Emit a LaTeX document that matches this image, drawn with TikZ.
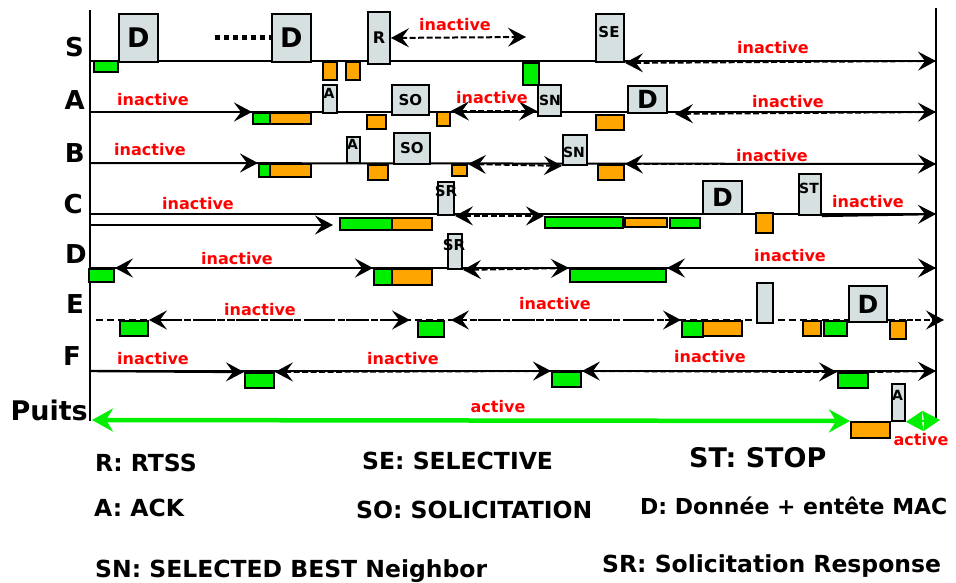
\documentclass[tikz,border=0pt]{standalone}
\usepackage{fontspec}
\setmainfont{DejaVu Sans}
\usetikzlibrary{arrows.meta,backgrounds}
\definecolor{cgreen}{RGB}{0,238,0}
\definecolor{corange}{RGB}{255,165,0}
\definecolor{cgray}{RGB}{214,224,224}
\definecolor{cred}{RGB}{255,0,0}
\newcommand\fs[1]{\fontsize{#1}{#1}\selectfont\bfseries}
\newcommand\bx[7]{\node[#2,anchor=north west,inner sep=0pt,minimum width={(#5-#3)*1pt},minimum height={(#6-#4)*1pt}] (#1) at (#3,#4) {#7};}
\begin{document}
\begin{tikzpicture}[x=1pt,y=-1pt,
  >={Stealth[length=18pt,width=19pt,inset=7pt]},
  gb/.style={draw,line width=1.9pt,fill=cgreen},
  ob/.style={draw,line width=1.9pt,fill=corange},
  pb/.style={draw,line width=1.9pt,fill=cgray},
  tl/.style={line width=2pt},
  ar/.style={line width=2.4pt,->},
  dar/.style={line width=2pt,<->,dash pattern=on 6pt off 2.5pt},
  ddr/.style={line width=2pt,->,dash pattern=on 6pt off 2.5pt},
  ina/.style={text=cred,font=\fs{16},inner sep=0pt},
  btxt/.style={inner sep=0pt},
  leg/.style={font=\fs{23.5},anchor=base west,inner sep=0pt},
  rowl/.style={font=\fs{26},anchor=base east,inner sep=0pt},
  garr/.style={line width=4.5pt,cgreen,{Stealth[length=21pt,width=23pt,inset=7pt]}-{Stealth[length=21pt,width=23pt,inset=7pt]}},
  garrs/.style={line width=2pt,cgreen,{Stealth[length=17pt,width=20pt,inset=1pt]}-{Stealth[length=17pt,width=20pt,inset=1pt]}}
]
\useasboundingbox (0,0) rectangle (956,583);

% row labels
\node[rowl] (lS) at (84,57) {S};
\node[rowl] (lA) at (85,110) {A};
\node[rowl] (lB) at (85,163) {B};
\node[rowl] (lC) at (83,213) {C};
\node[rowl] (lD) at (87,263) {D};
\node[rowl] (lE) at (84,313) {E};
\node[rowl] (lF) at (81,365) {F};
\node[rowl,font=\fs{27}] (lP) at (88,420) {Puits};

% row end coordinates
\coordinate (L1) at (90,10);  \coordinate (L2) at (90,421);
\coordinate (R1) at (936,8);  \coordinate (R2) at (936,418);
\coordinate (s0) at (90,61);  \coordinate (s1) at (936,61);
\coordinate (a0) at (90,112); \coordinate (a1) at (936,112);
\coordinate (b0) at (90,163); \coordinate (b1) at (936,164);
\coordinate (c0) at (90,214); \coordinate (c1) at (936,214);
\coordinate (c0b) at (90,225);
\coordinate (d0) at (90,268); \coordinate (d1) at (936,268);
\coordinate (e0) at (96,320); \coordinate (e1) at (944,320);
\coordinate (f0) at (90,371); \coordinate (f1) at (936,371);
\coordinate (p0) at (92,420); \coordinate (p1) at (940,420);
\coordinate (sRa) at (526,37);
\coordinate (dotA) at (215,38);

% S row
\bx{sg1}{gb}{93}{60}{117}{71}{}
\bx{sD1}{pb}{118}{13}{157}{61}{\fs{27}D}
\bx{sD2}{pb}{271}{13}{310}{61}{\fs{27}D}
\bx{so1}{ob}{322}{61}{336}{79}{}
\bx{so2}{ob}{345}{61}{359}{79}{}
\bx{sR}{pb}{367}{11}{389}{63}{\fs{16}R}
\bx{sg2}{gb}{522}{62}{538}{84}{}
\bx{sSE}{pb}{595}{13}{623}{61}{}
\node[btxt,font=\fs{15}] (tSE) at (609,32) {SE};

% A row
\bx{ag1}{gb}{252}{112}{269}{123}{}
\bx{ao1}{ob}{269}{112}{310}{123}{}
\bx{aA}{pb}{322}{84}{336}{112}{}
\node[btxt,font=\fs{14}] (tAA) at (329,93) {A};
\bx{ao2}{ob}{366}{114}{385}{128}{}
\bx{aSO}{pb}{391}{84}{428}{114}{\fs{15}SO}
\bx{ao3}{ob}{436}{111}{449}{125}{}
\bx{aSN}{pb}{537}{84}{560}{115}{}
\node[btxt,font=\fs{14}] (tASN) at (550,100) {SN};
\bx{ao4}{ob}{595}{114}{623}{129}{}
\bx{aD}{pb}{627}{85}{666}{112}{\fs{25}D}

% B row
\bx{bg1}{gb}{258}{163}{269}{176}{}
\bx{bo1}{ob}{269}{163}{310}{176}{}
\bx{bA}{pb}{346}{136}{359}{162}{}
\node[btxt,font=\fs{14}] (tBA) at (352.5,144) {A};
\bx{bo2}{ob}{367}{164}{387}{179}{}
\bx{bSO}{pb}{393}{132}{429}{163}{\fs{15}SO}
\bx{bo3}{ob}{451}{164}{466}{175}{}
\bx{bSN}{pb}{562}{134}{586}{164}{}
\node[btxt,font=\fs{14}] (tBSN) at (574,152) {SN};
\bx{bo4}{ob}{597}{164}{623}{179}{}

% C row
\bx{cg1}{gb}{339}{217}{391}{229}{}
\bx{co1}{ob}{391}{217}{431}{229}{}
\bx{cSR}{pb}{437}{181}{453}{214}{}
\node[btxt,font=\fs{15}] (tCSR) at (446,191) {SR};
\bx{cg2}{gb}{544}{216}{622}{227}{}
\bx{co2}{ob}{624}{217}{666}{226}{}
\bx{cg3}{gb}{669}{217}{699}{227}{}
\bx{cD}{pb}{702}{180}{741}{213}{\fs{25}D}
\bx{co3}{ob}{755}{212}{772}{232}{}
\bx{cST}{pb}{798}{173}{820}{214}{}
\node[btxt,font=\fs{14}] (tCST) at (809,188) {ST};

% D row
\bx{dg1}{gb}{88}{268}{113}{281}{}
\bx{dg2}{gb}{373}{268}{391}{284}{}
\bx{do1}{ob}{391}{268}{431}{284}{}
\bx{dSR}{pb}{447}{233}{461}{268}{}
\node[btxt,font=\fs{15}] (tDSR) at (454,245) {SR};
\bx{dg3}{gb}{569}{268}{665}{281}{}

% E row
\bx{eg1}{gb}{119}{320}{147}{335}{}
\bx{eg2}{gb}{417}{320}{443}{336}{}
\bx{eg3}{gb}{681}{320}{702}{336}{}
\bx{eo1}{ob}{702}{320}{741}{335}{}
\bx{egr}{pb}{756}{282}{772}{322}{}
\bx{eo2}{ob}{802}{320}{820}{335}{}
\bx{eg4}{gb}{823}{320}{846}{335}{}
\bx{eD}{pb}{848}{285}{886}{321}{\fs{25}D}
\bx{eo3}{ob}{889}{320}{905}{338}{}

% F row
\bx{fg1}{gb}{244}{372}{273}{387}{}
\bx{fg2}{gb}{551}{371}{580}{386}{}
\bx{fg3}{gb}{837}{372}{867}{387}{}

% Puits row
\bx{po1}{ob}{850}{421}{889}{437}{}
\bx{pA}{pb}{891}{383}{904}{420}{}
\node[btxt,font=\fs{14}] (tPA) at (897.5,395) {A};

% inactive / active labels
\node[ina] (i1) at (455,25) {inactive};
\node[ina] (i2) at (773,48) {inactive};
\node[ina] (i3) at (153,100) {inactive};
\node[ina] (i4) at (492,98) {inactive};
\node[ina] (i5) at (788,102) {inactive};
\node[ina] (i6) at (150,150) {inactive};
\node[ina] (i7) at (772,156) {inactive};
\node[ina] (i8) at (198,204) {inactive};
\node[ina] (i9) at (868,202) {inactive};
\node[ina] (i10) at (237,259) {inactive};
\node[ina] (i11) at (790,256) {inactive};
\node[ina] (i12) at (260,310) {inactive};
\node[ina] (i13) at (555,304) {inactive};
\node[ina] (i14) at (153,359) {inactive};
\node[ina] (i15) at (403,359) {inactive};
\node[ina] (i16) at (710,357) {inactive};
\node[ina] (ac1) at (498,407) {active};
\node[ina] (ac2) at (921,440) {active};

% legend
\node[leg] (g1) at (95,471) {R: RTSS};
\node[leg] (g2) at (362,469) {SE: SELECTIVE};
\node[leg,font=\fs{27}] (g3) at (689,467) {ST: STOP};
\node[leg] (g4) at (94,516) {A: ACK};
\node[leg] (g5) at (356,518) {SO: SOLICITATION};
\node[leg,font=\fs{22}] (g6) at (640,514) {D: Donnée + entête MAC};
\node[leg] (g7) at (95,577) {SN: SELECTED BEST Neighbor};
\node[leg] (g8) at (602,572) {SR: Solicitation Response};

\begin{scope}[on background layer]
% axes
\draw[tl] (L1) -- (L2);
\draw[tl] (R1) -- (R2);
% base lines
\draw[tl] (s0) -- (s1);
\draw[tl] (a0) -- (a1);
\draw[tl] (b0) -- (b1);
\draw[tl] (c0) -- (c1);
\draw[tl] (d0) -- (d1);
\draw[tl] (f0) -- (f1);
\draw[tl,dash pattern=on 7pt off 4pt] (e0) -- (eo3.north east);
% S row
\draw[line width=5pt,dash pattern=on 5pt off 4pt] (dotA) -- (sD2.west |- dotA);
\draw[dar] (sR.east) -- (sRa);
\draw[dar] (sSE.south east) -- (s1);
% A row
\draw[ar] (a0) -- (ag1.north west);
\draw[dar] (ao3.north east) -- (aSN.west |- ao3.north east);
\draw[dar,shorten <=7pt] (aD.south east) -- (a1);
% B row
\draw[ar] (b0) -- (bg1.north west);
\draw[dar] (bo3.north east) -- (bSN.south west);
\draw[dar] (bo4.north east) -- (b1);
% C row
\draw[ar,shorten >=6pt] (c0b) -- (cg1.west |- c0b);
\draw[dar] (cSR.south east) -- (cg2.west |- cSR.south east);
\draw[ar] (cST.south east) -- (c1);
% D row
\draw[dar] (dg1.north east) -- (dg2.north west);
\draw[dar] (dSR.south east) -- (dg3.north west);
\draw[dar] (dg3.north east) -- (d1);
% E row
\draw[dar,shorten >=7pt] (eg1.north east) -- (eg2.north west);
\draw[dar,shorten <=6pt] (eg2.north east) -- (eg3.north west);
\draw[ddr] (eo3.north east) -- (e1);
% F row
\draw[ar] (f0) -- (fg1.north west);
\draw[dar] (fg1.north east) -- (fg2.north west);
\draw[dar] (fg2.north east) -- (fg3.north west);
\draw[ddr] (fg3.north east) -- (f1);
% Puits row
\draw[garr] (p0) -- (po1.north west);
\draw[garrs] (pA.south east) -- (p1);
\end{scope}
\end{tikzpicture}
\end{document}
